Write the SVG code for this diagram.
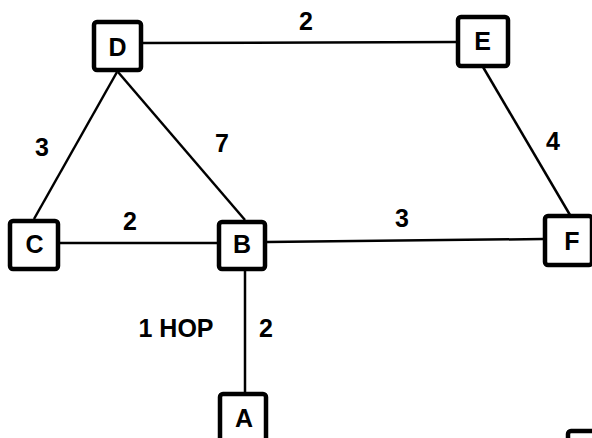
<svg xmlns="http://www.w3.org/2000/svg" width="592" height="438" viewBox="0 0 592 438">
<style>
.box{fill:#fff;stroke:#000;stroke-width:4.5}
.lbl{font-family:"Liberation Sans",Arial,sans-serif;font-size:25px;font-weight:bold;fill:#000;text-anchor:middle}
.num{font-family:"Liberation Sans",Arial,sans-serif;font-size:25px;font-weight:bold;fill:#000;text-anchor:middle}
.edge{stroke:#000;stroke-width:2.5;fill:none;stroke-linecap:butt}
</style>
<rect width="592" height="438" fill="#fff"/>
<g id="connectors">
<line class="edge" x1="143" y1="43" x2="457" y2="42"/>
<line class="edge" x1="117" y1="72" x2="34" y2="219"/>
<line class="edge" x1="118" y1="72" x2="245" y2="220"/>
<line class="edge" x1="60" y1="243" x2="217" y2="243"/>
<line class="edge" x1="267" y1="242" x2="543" y2="239"/>
<line class="edge" x1="483" y1="67" x2="570" y2="215"/>
<line class="edge" x1="245" y1="271" x2="245" y2="392"/>
</g>
<g id="edge-labels">
<text class="num" x="306" y="30">2</text>
<text class="num" x="42" y="156">3</text>
<text class="num" x="222" y="152">7</text>
<text class="num" x="130" y="230">2</text>
<text class="num" x="402" y="227">3</text>
<text class="num" x="553" y="150">4</text>
<text class="num" x="176" y="337">1 HOP</text>
<text class="num" x="266" y="337">2</text>
</g>
<g id="node-D"><rect class="box" x="94" y="22" width="47" height="48" rx="3"/><text class="lbl" x="117.5" y="55.5">D</text></g>
<g id="node-E"><rect class="box" x="458" y="17" width="50" height="49" rx="3"/><text class="lbl" x="482.5" y="50">E</text></g>
<g id="node-C"><rect class="box" x="10" y="221" width="48" height="48" rx="3"/><text class="lbl" x="34.5" y="253">C</text></g>
<g id="node-B"><rect class="box" x="219" y="222" width="46" height="47" rx="3"/><text class="lbl" x="242" y="253">B</text></g>
<g id="node-F"><rect class="box" x="545" y="216" width="47" height="49" rx="3"/><text class="lbl" x="572" y="250">F</text></g>
<g id="node-A"><rect class="box" x="220" y="394" width="46" height="60" rx="3"/><text class="lbl" x="244" y="427">A</text></g>
<g id="node-partial"><rect class="box" x="568" y="431" width="50" height="50" rx="3"/></g>
</svg>
